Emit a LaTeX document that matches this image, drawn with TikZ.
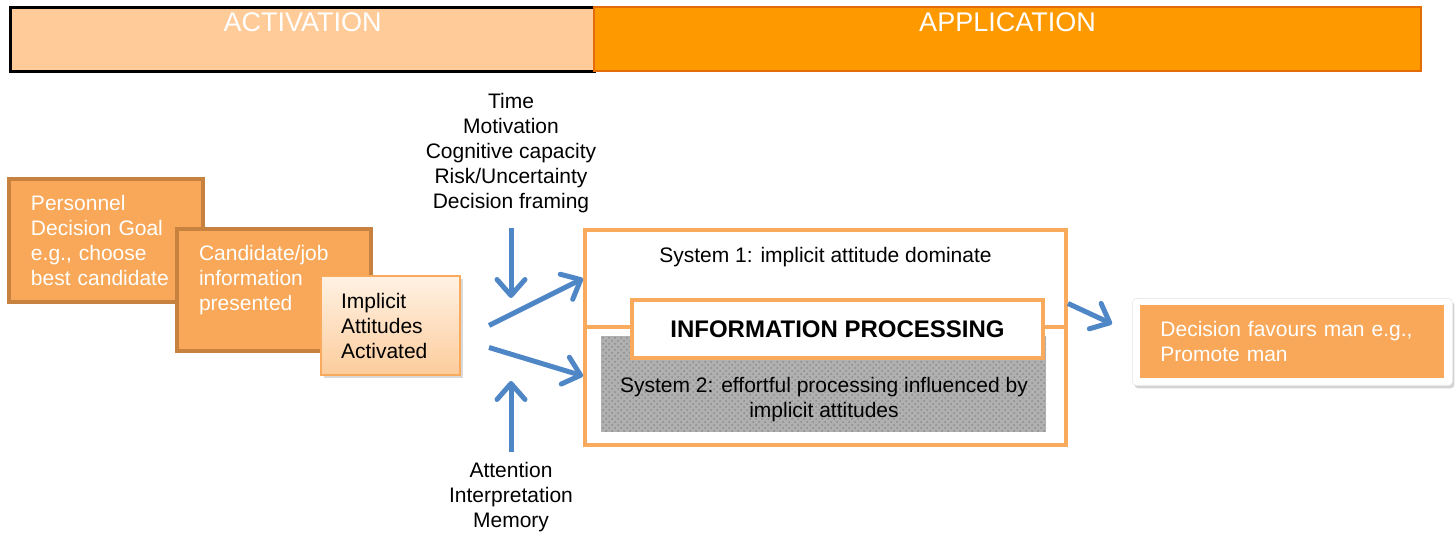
\documentclass[tikz,border=0pt]{standalone}
\usepackage{fontspec}
\setmainfont{Liberation Sans}
\usetikzlibrary{arrows.meta,shadows,patterns}
\definecolor{peach}{RGB}{255,204,153}
\definecolor{tangerine}{RGB}{255,153,0}
\definecolor{rust}{RGB}{227,108,9}
\definecolor{apricot}{RGB}{248,168,88}
\definecolor{clay}{RGB}{200,130,64}
\definecolor{amber}{RGB}{249,170,92}
\definecolor{cream}{RGB}{255,242,228}
\definecolor{blush}{RGB}{252,204,156}
\definecolor{flowblue}{RGB}{79,134,198}
\definecolor{hatch}{RGB}{176,176,176}

\begin{document}
\begin{tikzpicture}[x=0.5pt,y=-0.5pt,
    every node/.style={font=\fontsize{10.5}{12.5}\selectfont},
    phase/.style={draw, minimum height=32pt, anchor=north west, inner sep=0pt},
    phasetext/.style={text=white, font=\fontsize{13.5}{16}\selectfont, anchor=north, inner sep=0pt},
    stepbox/.style={draw=clay, line width=2pt, fill=apricot, text=white, align=left,
      text width=75pt, inner xsep=11pt, anchor=north west},
    sysbox/.style={draw=amber, line width=2pt, fill=white, minimum width=240.5pt, anchor=north west},
    cue/.style={align=center, anchor=north, inner sep=0pt},
    flow/.style={draw=flowblue, line width=2.5pt, -{Straight Barb[length=8pt,width=14pt,round]}},
  ]
  \useasboundingbox (0,0) rectangle (1455,533);

  \node[phase, fill=peach, line width=1.5pt, minimum width=292pt] (act) at (9,6) {};
  \node[phase, fill=tangerine, draw=rust, line width=1pt, minimum width=413.5pt] (app) at (593,6) {};
  \node[phasetext] (acttxt) at ([yshift=-3.25pt]act.north) {ACTIVATION};
  \node[phasetext] (apptxt) at ([yshift=-3.25pt]app.north) {APPLICATION};

  \node[stepbox, minimum height=61.5pt] (goal) at (7,177) {Personnel\\Decision Goal\\e.g., choose\\best candidate};
  \node[stepbox, minimum height=61pt, text depth=37pt] (cand) at (175,227) {Candidate/job\\information\\presented};
  \node[draw=amber, line width=1pt, top color=cream, bottom color=blush,
    drop shadow={opacity=0.3, shadow xshift=1.5pt, shadow yshift=-1.5pt},
    align=left, text width=49.5pt, inner xsep=10pt, minimum height=49.5pt, anchor=north west]
    (impl) at (320,275) {Implicit\\Attitudes\\Activated};

  \node[cue] (cond) at (511,93) {Time\\Motivation\\Cognitive capacity\\Risk/Uncertainty\\Decision framing};
  \node[cue] (proc) at (511,462) {Attention\\Interpretation\\Memory};
  \coordinate (condfoot) at (511,228);
  \coordinate (condtip) at (511,298);
  \coordinate (procfoot) at (511,452);
  \coordinate (proctip) at (511,381);

  \node[sysbox, minimum height=48.5pt] (sys1) at (583,228) {};
  \node[sysbox, minimum height=59pt] (sys2) at (583,325) {};
  \node[inner sep=0pt, anchor=north] (sys1txt) at ([yshift=-9.5pt]sys1.north) {System 1: implicit attitude dominate};
  \node[fill=hatch, postaction={pattern=crosshatch dots, pattern color=black!45},
    minimum width=222.5pt, minimum height=48pt, inner sep=0pt, anchor=north west] (shade) at (601,336) {};
  \node[cue] (sys2txt) at (824,377) {System 2: effortful processing influenced by\\implicit attitudes};
  \node[draw=amber, line width=2pt, fill=white, minimum width=205.5pt, minimum height=29pt,
    font=\bfseries\fontsize{12}{14}\selectfont, anchor=north west] (info) at (630,298) {INFORMATION PROCESSING};

  \node[draw=gray!15, fill=white, rounded corners=2pt,
    drop shadow={opacity=0.35, shadow xshift=1pt, shadow yshift=-1.5pt},
    minimum width=160pt, minimum height=43.5pt, anchor=north west] (decframe) at (1132,298) {};
  \node[fill=apricot, text=white, align=left, text width=132pt, inner xsep=10pt,
    minimum height=36.5pt] (dec) at (decframe.center) {Decision favours man e.g.,\\Promote man};

  \draw[flow] (condfoot) -- (condtip);
  \draw[flow] (procfoot) -- (proctip);
  \draw[flow] ([xshift=14pt]impl.east) -- (sys1.west);
  \draw[flow] ([xshift=14pt,yshift=-11pt]impl.east) -- ([yshift=5pt]sys2.west);
  \draw[flow] ([yshift=-12.5pt]sys1.east) -- ([xshift=-10pt,yshift=9pt]decframe.west);
\end{tikzpicture}
\end{document}
